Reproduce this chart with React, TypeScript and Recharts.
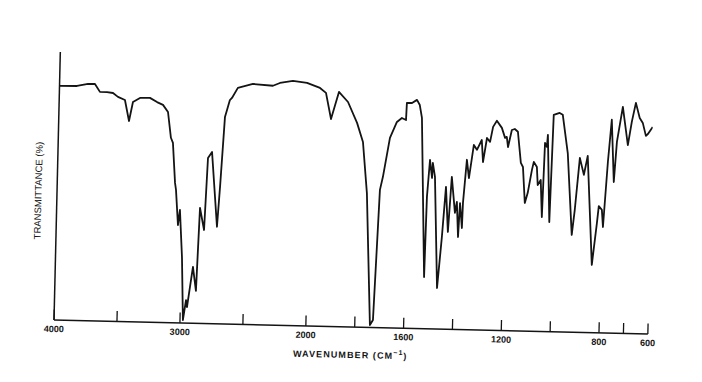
import React from 'react';
import { LineChart, Line, XAxis, YAxis } from 'recharts';

// IR spectrum, wavenumber (cm^-1) vs transmittance (%)
const wavenumbers = [
  4000, 3861, 3774, 3719, 3678, 3622, 3574, 3534, 3478, 3442, 3414, 3359, 3280, 3223, 3175, 3134,
  3106, 3089, 3065, 3056, 3034, 3021, 2996, 2977, 2956, 2947, 2907, 2879, 2862, 2826, 2808, 2777,
  2724, 2707, 2681, 2666, 2645, 2629, 2584, 2465, 2306, 2251, 2148, 2036, 1965, 1940, 1917, 1887,
  1849, 1810, 1784, 1763, 1738, 1726, 1710, 1699, 1674, 1647, 1627, 1610, 1608, 1587, 1567, 1555,
  1545, 1521, 1517, 1508, 1498, 1496, 1486, 1467, 1452, 1440, 1428, 1417, 1401, 1394, 1386, 1381,
  1371, 1369, 1357, 1347, 1330, 1317, 1298, 1291, 1277, 1264, 1253, 1238, 1217, 1203, 1196, 1190,
  1176, 1164, 1151, 1136, 1127, 1116, 1105, 1090, 1083, 1070, 1065, 1053, 1045, 1039, 1031, 1028,
  1014, 1006, 982, 969, 945, 921, 911, 895, 877, 863, 836, 819, 813, 800, 794, 780,
  768, 754, 745, 724, 700, 686, 671, 654, 641, 627, 619, 600,
];

const transmittance = [
  87.4, 87.5, 88.4, 88.4, 85.5, 85.5, 85.2, 83.8, 82.7, 74.9, 82.0, 83.6, 83.7, 82.2, 81.2, 78.6,
  69.0, 67.1, 52.2, 49.6, 36.5, 42.2, 24.6, 1.1, 8.6, 6.0, 21.0, 12.1, 43.1, 34.9, 61.8, 64.1,
  36.2, 51.1, 77.2, 79.9, 83.6, 84.4, 88.2, 89.8, 89.3, 90.4, 91.3, 90.7, 88.9, 87.1, 77.4, 87.6,
  83.9, 76.2, 69.1, 50.1, 0.9, 2.8, 51.4, 56.3, 70.9, 76.9, 78.4, 77.7, 84.1, 84.1, 85.3, 83.4,
  78.6, 19.3, 49.2, 63.0, 56.3, 61.9, 56.7, 15.3, 34.4, 53.1, 36.3, 56.9, 43.5, 47.6, 34.5, 47.2,
  37.9, 47.3, 63.4, 56.6, 69.0, 67.2, 70.9, 62.7, 71.7, 70.3, 75.9, 78.2, 75.6, 71.9, 72.3, 68.5,
  74.9, 75.3, 74.3, 62.7, 61.2, 47.8, 51.6, 60.2, 63.2, 61.3, 54.6, 56.5, 42.7, 70.4, 68.9, 73.4,
  40.9, 80.9, 81.7, 81.0, 66.8, 36.3, 45.6, 65.1, 58.8, 65.9, 25.3, 41.0, 47.3, 45.9, 39.5, 63.8,
  79.6, 56.4, 71.4, 84.5, 70.3, 79.0, 86.1, 80.5, 78.7, 73.9, 74.6, 77.3,
];

const tickWavenumbers = [4000, 3500, 3000, 2500, 2000, 1800, 1600, 1400, 1200, 1000, 800, 700, 600];
const labeledWavenumbers = [4000, 3000, 2000, 1600, 1200, 800, 600];

// IR charts switch to an expanded scale below 2000 cm^-1
const SPLIT = 2000;
const EXPAND = 1.94;
const toAxis = (w: number) => (w >= SPLIT ? 4000 - w : 4000 - SPLIT + EXPAND * (SPLIT - w));
const fromAxis = (u: number) => (u <= 4000 - SPLIT ? 4000 - u : SPLIT - (u - (4000 - SPLIT)) / EXPAND);

const data = wavenumbers.map((w, i) => ({ u: toAxis(w), t: transmittance[i] }));
const ink = '#141414';
const font = '"Liberation Sans", Arial, Helvetica, sans-serif';

const Tick = (props: any) => {
  const { x, y, payload } = props;
  const w = Math.round(fromAxis(payload.value));
  const show = labeledWavenumbers.includes(w);
  return (
    <g>
      <line x1={x} y1={y} x2={x} y2={y - 10.5} stroke={ink} strokeWidth={1.3} />
      {show && (
        <text x={x} y={y + 12} textAnchor="middle" fontSize={9} fontWeight={700} fill={ink} fontFamily={font}>
          {w}
        </text>
      )}
    </g>
  );
};

export default function App() {
  return (
    <div
      style={{
        position: 'absolute',
        left: 0,
        top: 0,
        width: 702,
        height: 382,
        background: '#fff',
        transform: 'rotate(1.35deg)',
        transformOrigin: '54px 320px',
      }}
    >
      <LineChart width={702} height={382} data={data} margin={{ top: 52, right: 54, left: 0, bottom: 0 }}>
        <XAxis
          dataKey="u"
          type="number"
          domain={[0, toAxis(600)]}
          ticks={tickWavenumbers.map(toAxis)}
          interval={0}
          height={62}
          tickSize={0}
          tickMargin={0}
          tickLine={false}
          tick={<Tick />}
          axisLine={{ stroke: ink, strokeWidth: 1.5 }}
          allowDataOverflow
        />
        <YAxis
          type="number"
          domain={[0, 100]}
          width={54}
          tick={false}
          tickLine={false}
          axisLine={{ stroke: ink, strokeWidth: 1.5 }}
        />
        <Line
          type="linear"
          dataKey="t"
          stroke={ink}
          strokeWidth={1.8}
          strokeLinejoin="round"
          dot={false}
          isAnimationActive={false}
        />
      </LineChart>
      <div
        style={{
          position: 'absolute',
          left: 351,
          top: 347,
          transform: 'translate(-50%, -50%)',
          fontFamily: font,
          fontSize: 9,
          fontWeight: 700,
          letterSpacing: 1.1,
          color: ink,
          whiteSpace: 'nowrap',
        }}
      >
        WAVENUMBER (CM<sup style={{ fontSize: 7 }}>−1</sup>)
      </div>
      <div
        style={{
          position: 'absolute',
          left: 35,
          top: 191,
          transform: 'translate(-50%, -50%) rotate(-90deg)',
          fontFamily: font,
          fontSize: 9.5,
          color: ink,
          whiteSpace: 'nowrap',
        }}
      >
        TRANSMITTANCE (%)
      </div>
    </div>
  );
}
